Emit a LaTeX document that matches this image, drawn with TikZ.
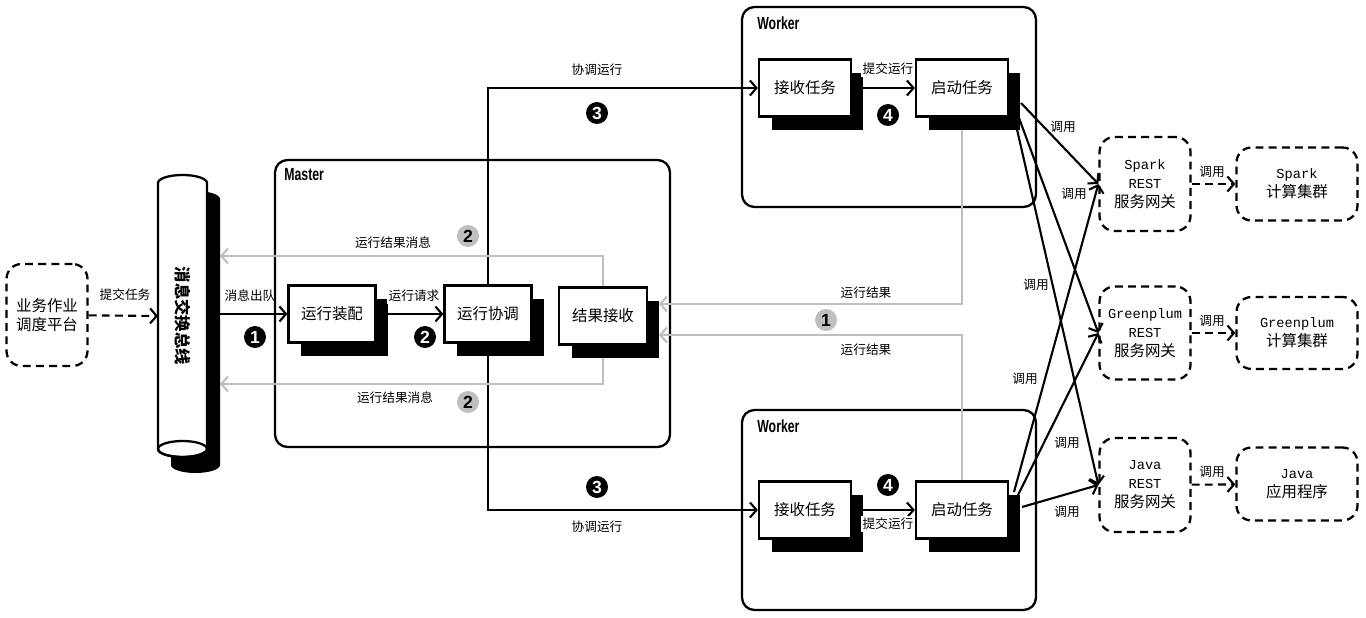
\documentclass[tikz,border=0pt]{standalone}
\usepackage{fontspec}
\setmainfont{Noto Sans CJK SC}
\newfontfamily\latinfont{Liberation Mono}
\newfontfamily\titlefont[FakeStretch=0.7]{Liberation Sans}
\newfontfamily\numfont{Liberation Sans}
\usetikzlibrary{arrows.meta,shadows,backgrounds}

\newcommand{\enword}[1]{{\latinfont\fontsize{7.8}{10.8}\selectfont #1}}

\tikzset{
  task/.style={draw, line width=1.3pt, fill=white, minimum width=1.74cm, minimum height=1.14cm,
    inner sep=0pt, font=\fontsize{8.8}{11}\selectfont,
    drop shadow={shadow xshift=0.25cm, shadow yshift=-0.27cm, opacity=1, fill=black}},
  ext/.style={draw, line width=1.3pt, dash pattern=on 4.5pt off 3pt, rounded corners=0.3cm,
    align=center, inner sep=0pt, font=\fontsize{8.8}{10.8}\selectfont},
  frame/.style={line width=1.3pt, rounded corners=0.25cm},
  flow/.style={line width=1.2pt, -{Straight Barb[length=1.3mm,width=3mm]}},
  dflow/.style={flow, dash pattern=on 4.5pt off 3pt},
  back/.style={flow, draw=gray!50},
  lbl/.style={font=\fontsize{7.2}{8}\selectfont, inner sep=1pt},
  badge/.style={circle, fill=black, text=white, inner sep=0pt, minimum size=0.44cm,
    font=\numfont\bfseries\fontsize{10}{10}\selectfont},
  gbadge/.style={badge, fill=gray!50, text=black},
  title/.style={font=\titlefont\bfseries\fontsize{10}{10}\selectfont, anchor=north west, inner sep=0pt},
}

\begin{document}
\begin{tikzpicture}[x=0.02cm, y=-0.02cm]
\useasboundingbox (0,0) rectangle (1366,618);

% message bus (cylinder with its shadow)
\fill[black, shift={(13,16)}] (158,183) -- (158,449) arc[start angle=180, end angle=0, x radius=24.5, y radius=8]
  -- (207,183) arc[start angle=0, end angle=-180, x radius=24.5, y radius=8] -- cycle;
\draw[line width=1.3pt, fill=white] (158,183) -- (158,449) arc[start angle=180, end angle=0, x radius=24.5, y radius=8]
  -- (207,183) arc[start angle=0, end angle=-180, x radius=24.5, y radius=8] -- cycle;
\draw[line width=1.3pt] (182.5,449) ellipse[x radius=24.5, y radius=8];
\node[rotate=-90, font=\bfseries\fontsize{9.3}{9.3}\selectfont] (bus) at (182.5,316) {消息交换总线};
\coordinate (busleft) at (158,316);
\coordinate (busright) at (220,316);

% platform and tasks
\node[ext, minimum width=1.62cm, minimum height=2.04cm] (platform) at (47,315) {业务作业\\调度平台};
\node[task] (assemble) at (332,314) {运行装配};
\node[task] (coord) at (488,314) {运行协调};
\node[task, minimum width=1.76cm] (receive) at (603,316) {结果接收};
\node[task, minimum width=1.84cm] (recvA) at (805,88) {接收任务};
\node[task, minimum width=1.84cm] (startA) at (962,88) {启动任务};
\node[task, minimum width=1.84cm] (recvB) at (805,510) {接收任务};
\node[task, minimum width=1.84cm] (startB) at (962,510) {启动任务};

% gateways and back ends
\node[ext, minimum width=1.82cm, minimum height=1.88cm] (sparkgw) at (1145,184) {\enword{Spark}\\\enword{REST}\\服务网关};
\node[ext, minimum width=1.82cm, minimum height=1.86cm] (gpgw) at (1145,333) {\enword{Greenplum}\\\enword{REST}\\服务网关};
\node[ext, minimum width=1.82cm, minimum height=1.88cm] (javagw) at (1145,485) {\enword{Java}\\\enword{REST}\\服务网关};
\node[ext, minimum width=2.42cm, minimum height=1.46cm] (sparkcl) at (1297,184) {\enword{Spark}\\计算集群};
\node[ext, minimum width=2.42cm, minimum height=1.44cm] (gpcl) at (1297,333) {\enword{Greenplum}\\计算集群};
\node[ext, minimum width=2.42cm, minimum height=1.46cm] (javaapp) at (1297,484) {\enword{Java}\\应用程序};

% free ends
\coordinate (msgUp) at (603,256);
\coordinate (msgDown) at (603,384);
\coordinate (rsltUp) at (659,304);
\coordinate (rsltDown) at (659,335);
\coordinate (outA1) at (1021,103);
\coordinate (outA2) at (1019,118);
\coordinate (outA3) at (1016,125);
\coordinate (outB1) at (1014,492);
\coordinate (outB2) at (1018,495);
\coordinate (outB3) at (1022,507);

\begin{scope}[on background layer]
  \draw[frame] (275,160) rectangle (670,447);
  \draw[frame] (742,7) rectangle (1036,207);
  \draw[frame] (742,410) rectangle (1036,610);

  \draw[dflow] (platform) -- (busleft);
  \draw[flow] (busright |- assemble) -- (assemble.west);
  \draw[flow] (assemble) -- (coord.west);
  \draw[flow] (coord.center) -- (coord |- recvA) -- (recvA.west);
  \draw[flow] (coord.center) -- (coord |- recvB) -- (recvB.west);
  \draw[flow] (recvA) -- (startA.west);
  \draw[flow] (recvB) -- (startB.west);

  \draw[back] (receive.north) -- (msgUp) -- (msgUp -| busright);
  \draw[back] (receive.south) -- (msgDown) -- (msgDown -| busright);
  \draw[back] (startA.south) |- (rsltUp);
  \draw[back] (startB.north) |- (rsltDown);

  \draw[flow] (outA1) -- (sparkgw.west);
  \draw[flow] (outA2) -- (gpgw.west);
  \draw[flow] (outA3) -- (javagw.west);
  \draw[flow] (outB1) -- (sparkgw.west);
  \draw[flow] (outB2) -- (gpgw.west);
  \draw[flow] (outB3) -- (javagw.west);

  \draw[dflow] (sparkgw) -- (sparkcl);
  \draw[dflow] (gpgw) -- (gpcl);
  \draw[dflow] (javagw) -- (javaapp);
\end{scope}

% titles
\node[title] (mastertitle) at (284,168) {Master};
\node[title] (workertitleA) at (757,16) {Worker};
\node[title] (workertitleB) at (757,419) {Worker};

% labels
\node[lbl] (lsubmit) at (125,295) {提交任务};
\node[lbl] (ldequeue) at (250,296) {消息出队};
\node[lbl, fill=white] (lrequest) at (414,296) {运行请求};
\node[lbl] (lmsgup) at (393,243) {运行结果消息};
\node[lbl] (lmsgdown) at (395,398) {运行结果消息};
\node[lbl] (lcoordA) at (597,70) {协调运行};
\node[lbl] (lcoordB) at (597,527) {协调运行};
\node[lbl, fill=white] (lsubmitA) at (888,69) {提交运行};
\node[lbl, fill=white] (lsubmitB) at (888,524) {提交运行};
\node[lbl] (lresultA) at (866,293) {运行结果};
\node[lbl] (lresultB) at (866,350) {运行结果};
\node[lbl] (lcall1) at (1063,127) {调用};
\node[lbl] (lcall2) at (1074,194) {调用};
\node[lbl] (lcall3) at (1036,285) {调用};
\node[lbl] (lcall4) at (1025,379) {调用};
\node[lbl] (lcall5) at (1067,443) {调用};
\node[lbl] (lcall6) at (1067,512) {调用};
\node[lbl] (lcall7) at (1212,172) {调用};
\node[lbl] (lcall8) at (1212,321) {调用};
\node[lbl] (lcall9) at (1212,472) {调用};

% step badges
\node[badge] (b1) at (255,337) {1};
\node[badge] (b2) at (425,337) {2};
\node[gbadge] (g2up) at (468,236) {2};
\node[gbadge] (g2down) at (468,402) {2};
\node[gbadge] (g1) at (826,320) {1};
\node[badge] (b3up) at (597,113) {3};
\node[badge] (b4up) at (888,115) {4};
\node[badge] (b3down) at (597,487) {3};
\node[badge] (b4down) at (888,485) {4};
\end{tikzpicture}
\end{document}
